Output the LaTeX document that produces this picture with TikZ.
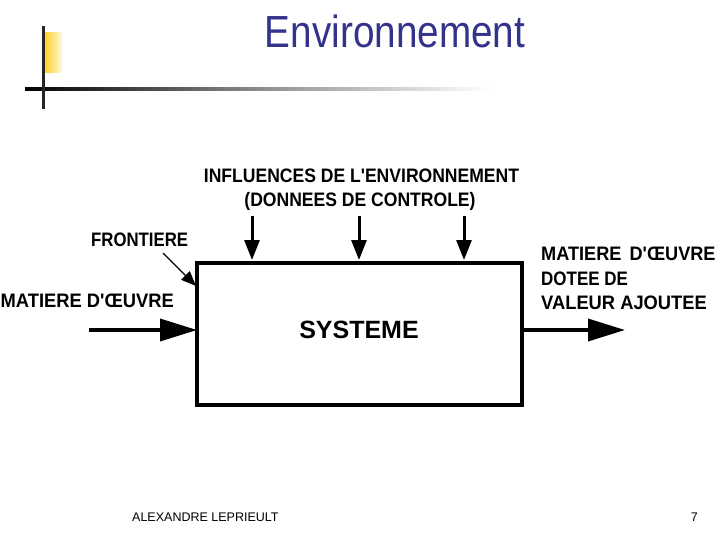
\documentclass[tikz,border=0pt]{standalone}
\usepackage{fontspec}
\setmainfont{Liberation Sans}
\newfontfamily\diagfont{Liberation Sans}
\usepackage{graphicx}
\usetikzlibrary{arrows.meta}
\definecolor{titleblue}{RGB}{51,51,140}
\definecolor{baryellow}{RGB}{255,208,40}
\tikzset{
  lbl/.style={inner sep=0pt, font=\diagfont\bfseries\fontsize{19.5}{19.5}\selectfont},
  bigarrow/.style={line width=3.5pt, -{Triangle[length=37pt,width=22pt]}},
  downarrow/.style={line width=3pt, -{Triangle[length=20pt,width=15pt]}},
  thinarrow/.style={line width=1.2pt, -{Triangle[length=15pt,width=12pt]}},
}
\begin{document}
\begin{tikzpicture}[x=1pt,y=-1pt]
\useasboundingbox (0,0) rectangle (720,540);
% header decoration
\shade[left color=baryellow, right color=baryellow!15] (45,33) rectangle (62,73);
\shade[left color=black, right color=white, middle color=black!45] (25,87.5) rectangle (490,90.5);
\fill[black!85] (41.5,26) rectangle (44.5,109);
\node[inner sep=0pt, anchor=base, text=titleblue, font=\fontsize{45}{45}\selectfont] (title) at (395,48) {\scalebox{0.86}[1]{Environnement}};
% system box
\node[draw, line width=3.5pt, minimum width=325pt, minimum height=142pt, inner sep=0pt] (sys) at (359.5,334) {};
\node[inner sep=0pt, anchor=base, font=\diagfont\bfseries\fontsize{25}{25}\selectfont] (systeme) at (359,338) {SYSTEME};
% influences
\node[lbl, anchor=base] (infl) at (361.5,183) {\scalebox{0.90}[1]{INFLUENCES DE L'ENVIRONNEMENT}};
\node[lbl, anchor=base] (donn) at (360,207) {\scalebox{0.90}[1]{(DONNEES DE CONTROLE)}};
\coordinate (a1s) at (252,216); \coordinate (a1e) at (252,260);
\coordinate (a2s) at (359,216); \coordinate (a2e) at (359,260);
\coordinate (a3s) at (464,216); \coordinate (a3e) at (464,260);
\draw[downarrow] (a1s) -- (a1e);
\draw[downarrow] (a2s) -- (a2e);
\draw[downarrow] (a3s) -- (a3e);
% frontiere
\node[lbl, anchor=base west] (front) at (91,247) {\scalebox{0.86}[1]{FRONTIERE}};
\coordinate (fs) at (163,253); \coordinate (fe) at (196,286);
\draw[thinarrow] (fs) -- (fe);
% input
\node[lbl, anchor=base west] (mat) at (0.5,307) {\scalebox{0.94}[1]{MATIERE D'ŒUVRE}};
\coordinate (ins) at (89,330); \coordinate (ine) at (197,330);
\draw[bigarrow] (ins) -- (ine);
% output
\node[lbl, anchor=base west] (out1) at (541,260) {\scalebox{0.93}[1]{MATIERE\hspace{0.45em}D'ŒUVRE}};
\node[lbl, anchor=base west] (out2) at (541,285) {\scalebox{0.87}[1]{DOTEE DE}};
\node[lbl, anchor=base west] (out3) at (541,309) {\scalebox{0.94}[1]{VALEUR AJOUTEE}};
\coordinate (outs) at (523,330); \coordinate (oute) at (625,330);
\draw[bigarrow] (outs) -- (oute);
% footer
\node[inner sep=0pt, anchor=base west, font=\fontsize{12.5}{12.5}\selectfont] (author) at (132,521) {ALEXANDRE LEPRIEULT};
\node[inner sep=0pt, anchor=base east, font=\fontsize{12.5}{12.5}\selectfont] (page) at (698,521) {7};
\end{tikzpicture}
\end{document}
